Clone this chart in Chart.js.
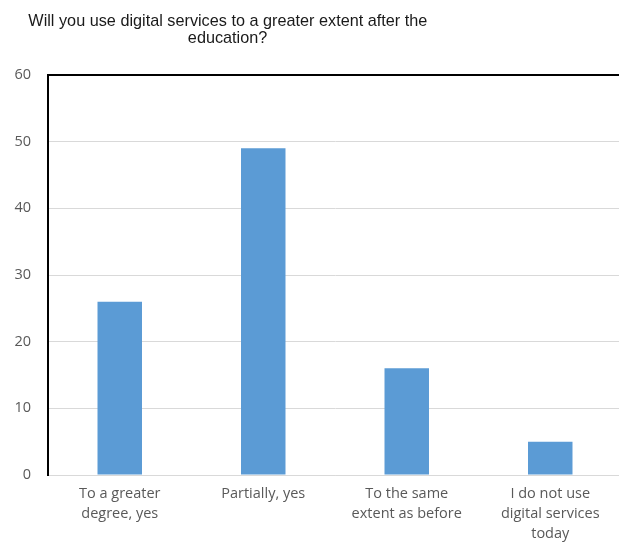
<!DOCTYPE html>
<html>
<head>
<meta charset="utf-8">
<script src="https://cdn.jsdelivr.net/npm/chart.js@4.4.1/dist/chart.umd.min.js"></script>
<style>
html,body{margin:0;padding:0;background:#fff;overflow:hidden;width:619px;height:555px;}
#wrap{position:absolute;left:0;top:0;width:622px;height:555px;}
#title{position:absolute;left:0;top:12px;width:455px;text-align:center;font-family:"Liberation Sans",Arial,sans-serif;font-size:17px;line-height:17px;color:#1a1a1a;white-space:nowrap;}
#title span{display:inline-block;transform-origin:center;}
</style>
</head>
<body>
<div id="wrap"><canvas id="c" width="622" height="555"></canvas></div>
<div id="title"><span id="t1"></span><br><span id="t2"></span></div>
<script>
const titleLines = ["Will you use digital services to a greater extent after the", "education?"];
const categories = [["To a greater","degree, yes"], ["Partially, yes"], ["To the same","extent as before"], ["I do not use","digital services","today"]];
const values = [26, 49, 16, 5];
const yTicks = [0, 10, 20, 30, 40, 50, 60];

document.getElementById('t1').textContent = titleLines[0];
document.getElementById('t2').textContent = titleLines[1];
(function(){
  const t1 = document.getElementById('t1'), t2 = document.getElementById('t2');
  const s = 399 / t1.getBoundingClientRect().width;
  t1.style.transform = 'scaleX(' + s + ')';
  t2.style.transform = 'scaleX(' + s + ')';
})();

const grey = '#595959';
new Chart(document.getElementById('c'), {
  type: 'bar',
  data: {
    labels: categories,
    datasets: [{ data: values, backgroundColor: '#5b9bd5', borderWidth: 0, barPercentage: 1, categoryPercentage: 0.31 }]
  },
  options: {
    responsive: false,
    animation: false,
    layout: { padding: { top: 75, right: 0, left: 0, bottom: 0 } },
    plugins: { legend: { display: false }, title: { display: false }, tooltip: { enabled: false } },
    scales: {
      x: {
        grid: { display: false, drawTicks: false },
        border: { display: true, color: '#d9d9d9', width: 1 },
        ticks: { color: grey, font: { family: '"Open Sans", sans-serif', size: 14.5, lineHeight: 1.38 }, padding: 9, maxRotation: 0, autoSkip: false },
        afterFit: s => { s.height = 80; }
      },
      y: {
        min: 0, max: 60,
        afterBuildTicks: s => { s.ticks = yTicks.map(v => ({ value: v })); },
        grid: {
          drawTicks: false,
          color: c => (c.tick && c.tick.value === 60) ? '#000' : '#d9d9d9',
          lineWidth: c => (c.tick && c.tick.value === 60) ? 2 : 1
        },
        border: { display: true, color: '#000', width: 2 },
        ticks: { color: grey, font: { family: '"Open Sans", sans-serif', size: 14.5 }, padding: 17 },
        afterFit: s => { s.width = 48; }
      }
    }
  }
});
</script>
</body>
</html>
